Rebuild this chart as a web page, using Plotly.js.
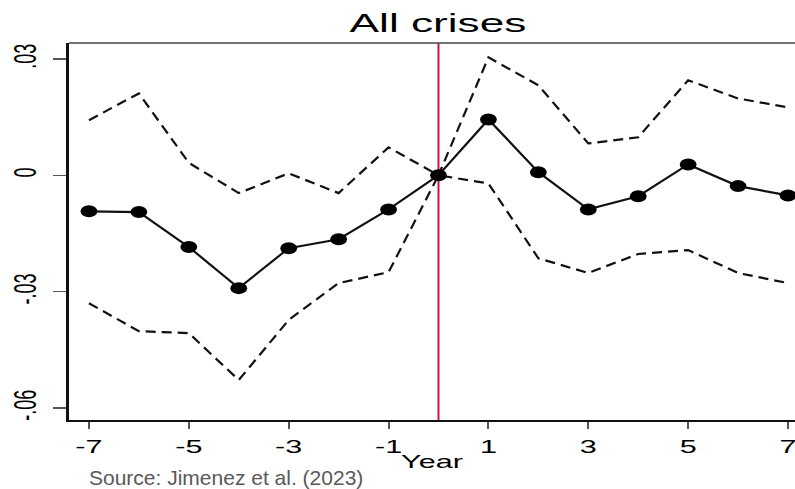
<!DOCTYPE html>
<html>
<head>
<meta charset="utf-8">
<script src="https://cdn.plot.ly/plotly-3.0.1.min.js"></script>
<style>
html,body{margin:0;padding:0;background:#fff;}
#chart{width:795px;height:489px;}
#chart g.xtick, #chart g.ytick {
  transform-box: fill-box;
  transform-origin: center;
  transform: scaleX(1.7);
}
</style>
</head>
<body>
<div id="chart"></div>
<script>
// Data
const years = [-7, -6, -5, -4, -3, -2, -1, 0, 1, 2, 3, 4, 5, 6, 7];
const estimate = [-0.0093, -0.0095, -0.0185, -0.0291, -0.0188, -0.0165, -0.0088, 0.0, 0.0144, 0.0008, -0.0088, -0.0054, 0.0028, -0.0028, -0.0052];
const upperCI = [0.0142, 0.0211, 0.0032, -0.0046, 0.0005, -0.0046, 0.0072, 0.0, 0.0304, 0.0232, 0.0082, 0.0098, 0.0245, 0.0198, 0.0175];
const lowerCI = [-0.0330, -0.0402, -0.0407, -0.0528, -0.0373, -0.0278, -0.0250, 0.0, -0.0021, -0.0214, -0.0252, -0.0203, -0.0193, -0.0252, -0.0278];
const xTickVals = [-7, -5, -3, -1, 1, 3, 5, 7];
const yTickVals = [0.03, 0, -0.03, -0.06];
const yTickText = ['.03', '0', '-.03', '-.06'];
const eventYear = 0;

const FONT = 'Liberation Sans, Arial, sans-serif';

const traces = [
  {x: years, y: upperCI, mode: 'lines', line: {color: '#111', width: 2.2, dash: '10px,6px'}, hoverinfo: 'skip'},
  {x: years, y: lowerCI, mode: 'lines', line: {color: '#111', width: 2.2, dash: '10px,6px'}, hoverinfo: 'skip'},
  {x: years, y: estimate, mode: 'lines+markers', line: {color: '#111', width: 2.2},
   marker: {color: '#000', size: 12, symbol: 'circle'}}
];

const layout = {
  width: 795, height: 489,
  margin: {l: 69, r: 0, t: 43, b: 69},
  paper_bgcolor: '#fff', plot_bgcolor: '#fff',
  showlegend: false,
  font: {family: FONT, color: '#000', size: 18},
  title: {text: 'All crises', font: {family: FONT, size: 26, color: '#000'},
          xref: 'container', x: 438/795, xanchor: 'center',
          yref: 'container', y: 1 - 23/489, yanchor: 'middle'},
  xaxis: {
    range: [-7.40, 7.14], showgrid: false, zeroline: false, automargin: false,
    tickmode: 'array', tickvals: xTickVals, ticktext: xTickVals.map(String),
    ticks: 'outside', ticklen: 7, tickwidth: 2, tickcolor: '#555',
    showline: true, linecolor: '#111', linewidth: 2,
    tickfont: {size: 18, family: FONT, color: '#000'},
    ticklabelstandoff: 2,
    title: {text: 'Year', font: {size: 18, family: FONT, color: '#000'}, standoff: 0}
  },
  yaxis: {
    range: [-0.0631, 0.0341], showgrid: false, zeroline: false, automargin: false,
    tickmode: 'array', tickvals: yTickVals, ticktext: yTickText,
    ticks: 'outside', ticklen: 13, tickwidth: 1.5, tickcolor: '#555',
    showline: true, linecolor: '#111', linewidth: 3,
    tickangle: -90,
    tickfont: {size: 18, family: FONT, color: '#000'},
    ticklabelstandoff: 14
  },
  shapes: [
    {type: 'line', xref: 'x', yref: 'paper', x0: eventYear, x1: eventYear, y0: 0, y1: 1,
     line: {color: '#d6103c', width: 2}, layer: 'below'},
    {type: 'line', xref: 'paper', yref: 'paper', x0: 0, x1: 1, y0: 1, y1: 1,
     line: {color: '#444', width: 1.5}}
  ],
  annotations: [
    {text: 'Source: Jimenez et al. (2023)', xref: 'paper', yref: 'paper',
     x: (87-69)/726, xanchor: 'left', y: -(478-420)/377, yanchor: 'middle',
     showarrow: false, font: {family: FONT, size: 21, color: '#595959'}}
  ]
};

function stretchEl(el, s) {
  const cur = el.getAttribute('transform') || '';
  if (el.dataset.st !== undefined && cur === el.dataset.st) return;
  const b = el.getBBox();
  const cx = b.x + b.width / 2, cy = b.y + b.height / 2;
  let px = cx, py = cy;
  const tl = el.transform.baseVal;
  if (tl.numberOfItems) {
    const m = tl.consolidate().matrix;
    px = m.a * cx + m.c * cy + m.e;
    py = m.b * cx + m.d * cy + m.f;
  }
  el.setAttribute('transform', `translate(${px},${py}) scale(${s},1) translate(${-px},${-py}) ${cur}`);
  el.dataset.st = el.getAttribute('transform');
}

function widenMarker(p, s) {
  const cur = p.getAttribute('transform') || '';
  if (p.dataset.st !== undefined && cur === p.dataset.st) return;
  p.setAttribute('transform', cur + ` scale(${s},1)`);
  p.dataset.st = p.getAttribute('transform');
}

let busy = false;
function applyStretch() {
  if (busy) return;
  busy = true;
  const gd = document.getElementById('chart');
  gd.querySelectorAll('.gtitle, .xtitle').forEach(el => { try { stretchEl(el, 1.7); } catch (e) {} });
  gd.querySelectorAll('.scatterlayer .points path.point').forEach(p => { try { widenMarker(p, 1.4); } catch (e) {} });
  busy = false;
}

const gdEl = document.getElementById('chart');
new MutationObserver(() => applyStretch()).observe(gdEl, {subtree: true, childList: true, attributes: true, attributeFilter: ['transform']});

Plotly.newPlot('chart', traces, layout, {displayModeBar: false, staticPlot: true}).then(gd => {
  applyStretch();
  [0, 30, 100, 300].forEach(t => setTimeout(applyStretch, t));
});
</script>
</body>
</html>
